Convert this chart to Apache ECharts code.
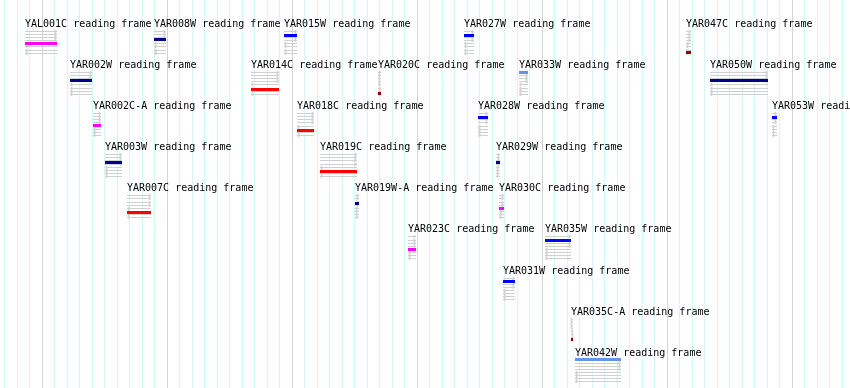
<!DOCTYPE html>
<html><head><meta charset="utf-8">
<script src="https://cdn.jsdelivr.net/npm/echarts@6/dist/echarts.min.js"></script>
<style>html,body{margin:0;padding:0;background:#fff}#c{width:850px;height:388px}</style>
</head><body><div id="c"></div>
<script>
// Feature names (reading frames), genomic start/end (bp), layout row, frame lane (0-2 forward, 3-5 reverse)
const names  = ['YAL001C','YAR008W','YAR015W','YAR027W','YAR047C',
                'YAR002W','YAR014C','YAR020C','YAR033W','YAR050W',
                'YAR002C-A','YAR018C','YAR028W','YAR053W',
                'YAR003W','YAR019C','YAR029W',
                'YAR007C','YAR019W-A','YAR030C',
                'YAR023C','YAR035W',
                'YAR031W',
                'YAR035C-A',
                'YAR042W'];
const starts = [148640,158960,169360,183760,201520,
                152240,166720,176880,188160,203440,
                154080,170400,184880,208400,
                155040,172240,186320,
                156800,175040,186560,
                179280,190240,
                186880,
                192320,
                192640];
const ends   = [151200,159920,170400,184560,201920,
                154000,168960,177120,188880,208080,
                154720,171760,185680,208800,
                156400,175200,186640,
                158720,175360,186960,
                179920,192320,
                187840,
                192480,
                196320];
const rows   = [0,0,0,0,0, 1,1,1,1,1, 2,2,2,2, 3,3,3, 4,4,4, 5,5, 6, 7, 8];
const frames = [3,2,1,1,5, 2,4,5,0,2, 3,4,1,1, 2,4,2, 4,2,3, 3,1, 1, 5, 0];
const frameColors = ['#6495ed','#0000ff','#00008b','#ff00ff','#ff0000','#8b0000'];
const suffix = ' reading frame';

const xMin = 146640, xMax = 214640;
const yMin = -0.5596, yMax = 8.881;
const gridTicks = [];
for (let t = 147000; t <= 214000; t += 1000) gridTicks.push(t);

const featData = names.map((n, i) => [starts[i], ends[i], rows[i], frames[i]]);

function renderGrid(params, api) {
  const t = api.value(0);
  const top = api.coord([t, yMin]);
  const bot = api.coord([t, yMax]);
  const x = Math.floor(top[0]) + 0.5;
  const major = (t % 10000) === 0;
  return {type: 'line', shape: {x1: x, y1: Math.min(top[1], bot[1]), x2: x, y2: Math.max(top[1], bot[1])},
          style: {stroke: major ? '#d3d3d3' : '#d4f7fa', lineWidth: 1}};
}

function renderFeature(params, api) {
  const i = params.dataIndex;
  const s = api.coord([api.value(0), api.value(2)]);
  const e = api.coord([api.value(1), api.value(2)]);
  const x1 = Math.round(s[0]), x2 = Math.max(Math.round(e[0]), Math.round(s[0]) + 2);
  const yc = s[1];
  const lane = api.value(3);
  const children = [];
  const grey = '#d0d0d0';
  const fwd = [8, 11.1, 14.2, 17.3], rev = [20.4, 23.5, 26.6, 29.7];
  fwd.forEach(o => {
    const y = Math.round(yc + o) + 0.5;
    children.push({type: 'line', shape: {x1: x1, y1: y, x2: x2, y2: y}, style: {stroke: grey, lineWidth: 1}});
    children.push({type: 'polyline', shape: {points: [[x2 - 2.5, y - 1.5], [x2, y], [x2 - 2.5, y + 1.5]]}, style: {stroke: grey, lineWidth: 1, fill: null}});
  });
  rev.forEach(o => {
    const y = Math.round(yc + o) + 0.5;
    children.push({type: 'line', shape: {x1: x1, y1: y, x2: x2, y2: y}, style: {stroke: grey, lineWidth: 1}});
    children.push({type: 'polyline', shape: {points: [[x1 + 2.5, y - 1.5], [x1, y], [x1 + 2.5, y + 1.5]]}, style: {stroke: grey, lineWidth: 1, fill: null}});
  });
  const by = Math.round(yc + 8.2 + 4.2 * lane - 1.5);
  children.push({type: 'rect', shape: {x: x1, y: by, width: x2 - x1, height: 3}, style: {fill: frameColors[lane]}});
  children.push({type: 'text', x: x1, y: Math.round(yc) + 1,
    style: {text: names[i] + suffix, font: '10px "DejaVu Sans Mono", monospace', fill: '#000',
            align: 'left', verticalAlign: 'middle', textAlign: 'left', textVerticalAlign: 'middle'}});
  return {type: 'group', children: children};
}

const chart = echarts.init(document.getElementById('c'), null, {renderer: 'canvas'});
chart.setOption({
  animation: false,
  backgroundColor: '#ffffff',
  grid: {left: 0, right: 0, top: 0, bottom: 0},
  xAxis: {type: 'value', min: xMin, max: xMax, show: false},
  yAxis: {type: 'value', min: yMin, max: yMax, inverse: true, show: false},
  series: [
    {type: 'custom', name: 'grid', data: gridTicks.map(t => [t]), renderItem: renderGrid,
     encode: {x: 0}, clip: false, silent: true, z: 1},
    {type: 'custom', name: 'features', data: featData, renderItem: renderFeature,
     encode: {x: [0, 1], y: 2}, clip: false, z: 2}
  ]
});
</script>
</body></html>
